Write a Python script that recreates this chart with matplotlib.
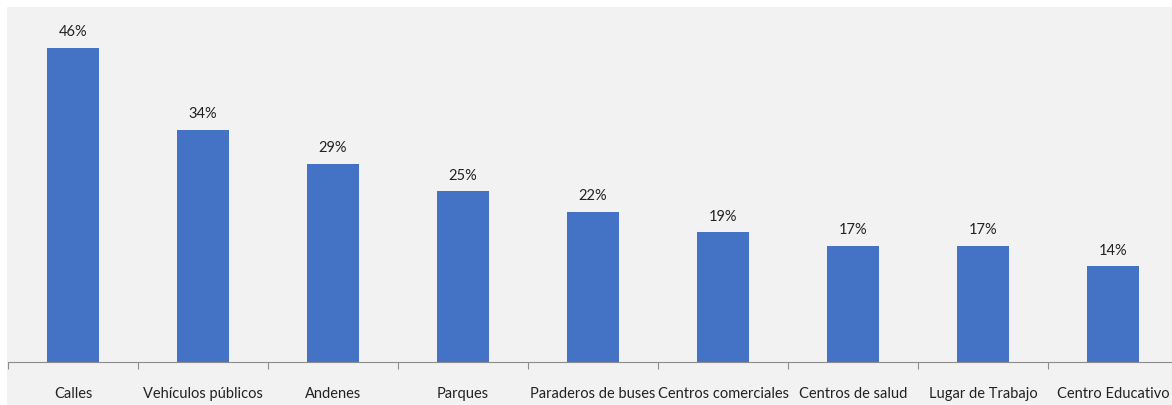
import numpy as np
import matplotlib
matplotlib.use("Agg")
import matplotlib.pyplot as plt
from matplotlib.patches import Rectangle

categorias = ['Calles', 'Vehículos públicos', 'Andenes', 'Parques', 'Paraderos de buses',
              'Centros comerciales', 'Centros de salud', 'Lugar de Trabajo', 'Centro Educativo']
porcentajes = [46, 34, 29, 25, 22, 19, 17, 17, 14]

plt.rcParams['font.family'] = ['Lato', 'DejaVu Sans']

fig = plt.figure(figsize=(11.72, 4.06), dpi=100, facecolor='#f2f2f2')
# thin white strip at top and left, as in the reference
fig.patches.append(Rectangle((0, 398 / 406), 1, 8 / 406, transform=fig.transFigure,
                             facecolor='white', edgecolor='none', zorder=-1))
fig.patches.append(Rectangle((0, 0), 7 / 1172, 1, transform=fig.transFigure,
                             facecolor='white', edgecolor='none', zorder=-1))

ax = fig.add_axes([8 / 1172, 43 / 406, 1170 / 1172, 355 / 406])
ax.set_facecolor('#f2f2f2')

x = np.arange(len(categorias))
barras = ax.bar(x, porcentajes, width=0.4, color='#4472C4')
for xi, v in zip(x, porcentajes):
    ax.annotate(f'{v}%', (xi, v), xytext=(0, 7), textcoords='offset points',
                ha='center', va='bottom', fontsize=10.5, color='#222222')

ax.set_xlim(-0.5, len(categorias) - 0.5)
ax.set_ylim(0, 52)
ax.set_yticks([])
for s in ['top', 'right', 'left']:
    ax.spines[s].set_visible(False)
ax.spines['bottom'].set_color('#8c8c8c')

ax.set_xticks(np.arange(len(categorias) + 1) - 0.5)
ax.set_xticklabels([])
ax.tick_params(axis='x', which='major', length=5, color='#8c8c8c', direction='out')
ax.set_xticks(x, minor=True)
ax.set_xticklabels(categorias, minor=True, fontsize=10.5, color='#222222')
ax.tick_params(axis='x', which='minor', length=0, pad=17)

fig.savefig('out.png', dpi=100, facecolor=fig.get_facecolor())
